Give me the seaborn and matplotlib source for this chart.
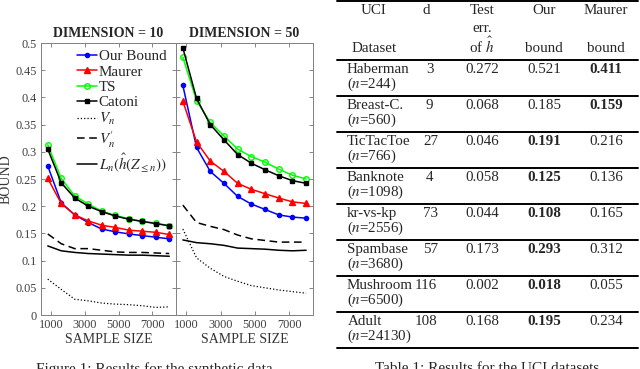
import numpy as np
import pandas as pd
import matplotlib
matplotlib.use('Agg')
import matplotlib.pyplot as plt
import seaborn as sns

sns.set_style('ticks')
plt.rcParams['font.family'] = ['Liberation Serif', 'DejaVu Serif']
plt.rcParams['mathtext.fontset'] = 'stix'

# synthetic data results
sample_sizes = [800, 1600, 2400, 3200, 4000, 4800, 5600, 6400, 7200, 8000]

ours_10 = [0.274, 0.206, 0.184, 0.170, 0.158, 0.153, 0.149, 0.146, 0.143, 0.140]
maurer_10 = [0.251, 0.205, 0.184, 0.173, 0.165, 0.161, 0.156, 0.154, 0.152, 0.148]
ts_10 = [0.313, 0.251, 0.219, 0.204, 0.191, 0.183, 0.177, 0.172, 0.169, 0.164]
catoni_10 = [0.305, 0.243, 0.215, 0.200, 0.190, 0.182, 0.176, 0.172, 0.168, 0.164]
vn_10 = [0.066, 0.047, 0.029, 0.026, 0.022, 0.020, 0.019, 0.017, 0.014, 0.015]
vn_prime_10 = [0.149, 0.131, 0.122, 0.122, 0.119, 0.116, 0.115, 0.115, 0.114, 0.113]
ln_10 = [0.127, 0.118, 0.115, 0.113, 0.112, 0.111, 0.110, 0.110, 0.109, 0.108]

ours_50 = [0.422, 0.308, 0.264, 0.242, 0.218, 0.204, 0.194, 0.184, 0.180, 0.178]
maurer_50 = [0.393, 0.318, 0.283, 0.264, 0.242, 0.231, 0.223, 0.215, 0.208, 0.205]
ts_50 = [0.474, 0.394, 0.354, 0.329, 0.305, 0.291, 0.281, 0.268, 0.257, 0.250]
catoni_50 = [0.491, 0.398, 0.350, 0.322, 0.295, 0.279, 0.267, 0.256, 0.247, 0.242]
vn_50 = [0.158, 0.105, 0.086, 0.071, 0.062, 0.054, 0.050, 0.046, 0.043, 0.040]
vn_prime_50 = [0.202, 0.170, 0.163, 0.157, 0.147, 0.140, 0.137, 0.134, 0.134, 0.134]
ln_50 = [0.138, 0.133, 0.131, 0.128, 0.123, 0.122, 0.121, 0.119, 0.118, 0.119]

y_ticks = [0, 0.05, 0.1, 0.15, 0.2, 0.25, 0.3, 0.35, 0.4, 0.45, 0.5]
y_tick_labels = ['0', '0.05', '0.1', '0.15', '0.2', '0.25', '0.3', '0.35', '0.4', '0.45', '0.5']
x_ticks = [1000, 3000, 5000, 7000]

# UCI table
datasets = ['Haberman', 'Breast-C.', 'TicTacToe', 'Banknote', 'kr-vs-kp', 'Spambase', 'Mushroom', 'Adult']
n_sizes = [244, 560, 766, 1098, 2556, 3680, 6500, 24130]
dims = [3, 9, 27, 4, 73, 57, 116, 108]
test_err = [0.272, 0.068, 0.046, 0.058, 0.044, 0.173, 0.002, 0.168]
our_bound = [0.521, 0.185, 0.191, 0.125, 0.108, 0.293, 0.018, 0.195]
maurer_bound = [0.411, 0.159, 0.216, 0.136, 0.165, 0.312, 0.055, 0.234]

W, H = 640, 369
fig = plt.figure(figsize=(6.4, 3.69), dpi=100)

ax_l = fig.add_axes([41 / W, 1 - 315 / H, 135 / W, 272 / H])
ax_r = fig.add_axes([176 / W, 1 - 315 / H, 137 / W, 272 / H])

series = [
    ('Our Bound', 'blue', '.', '-', 6, 'full'),
    ('Maurer', 'red', '^', '-', 4.5, 'full'),
    ('TS', '#00ff00', 'o', '-', 4, 'none'),
    ('Catoni', 'black', 's', '-', 3, 'full'),
    ('$V_n$', 'black', None, ':', 0, 'full'),
    (r'$V^{\prime}_{n}$', 'black', None, (0, (5, 3)), 0, 'full'),
    (r'$L_n(\hat{h}(Z_{\leq n}))$', 'black', None, '-', 0, 'full'),
]
data_10 = [ours_10, maurer_10, ts_10, catoni_10, vn_10, vn_prime_10, ln_10]
data_50 = [ours_50, maurer_50, ts_50, catoni_50, vn_50, vn_prime_50, ln_50]

for ax, data, title in [(ax_l, data_10, 'DIMENSION = 10'), (ax_r, data_50, 'DIMENSION = 50')]:
    for (label, color, marker, ls, ms, fill), vals in zip(series, data):
        lw = 0.9 if ls == ':' else 1.1
        sns.lineplot(x=sample_sizes, y=vals, ax=ax, color=color, marker=marker, linestyle=ls,
                     markersize=ms, fillstyle=fill, markeredgecolor=color, markeredgewidth=1,
                     linewidth=lw, label=label, legend=False)
    ax.set_xticks(x_ticks)
    ax.set_yticks(y_ticks)
    ax.set_xlim(400, 8400)
    ax.set_ylim(0, 0.5)
    ax.tick_params(direction='in', top=True, right=True, length=3, width=0.6,
                   labelsize=8.8, colors='0.45', labelcolor='0.25', pad=3)
    for sp in ax.spines.values():
        sp.set_color('0.5')
        sp.set_linewidth(0.7)
    ax.set_title(title, fontsize=10, fontweight='bold', pad=4)
    ax.set_xlabel('SAMPLE SIZE', fontsize=10, color='0.2', labelpad=1)

ax_l.set_yticklabels(y_tick_labels)
ax_r.set_yticklabels([])
ax_l.set_ylabel('BOUND', fontsize=10, color='0.2', labelpad=2)

handles, labels = ax_l.get_legend_handles_labels()
ax_l.legend(handles, labels, loc='upper left', bbox_to_anchor=(0.27, 0.975), frameon=False,
            fontsize=10.8, borderpad=0, handlelength=1.3, handletextpad=0.12, labelspacing=0.12,
            borderaxespad=0)

# table drawn in pixel coordinates
tab = fig.add_axes([330 / W, 0, 310 / W, 1])
tab.set_xlim(330, 640)
tab.set_ylim(H, 0)
tab.axis('off')

fs = 10.8
col_x = {'name': 374, 'd': 429, 'err': 482, 'our': 544, 'maurer': 606}
tab.text(col_x['name'], 10, 'UCI', ha='center', va='center', fontsize=fs)
tab.text(col_x['name'], 48, 'Dataset', ha='center', va='center', fontsize=fs)
tab.text(col_x['d'] - 3, 10, 'd', ha='center', va='center', fontsize=fs)
tab.text(col_x['err'], 10, 'Test', ha='center', va='center', fontsize=fs)
tab.text(col_x['err'], 28, 'err.', ha='center', va='center', fontsize=fs)
tab.text(col_x['err'], 46, r'of $\hat{h}$', ha='center', va='center', fontsize=fs)
tab.text(col_x['our'], 10, 'Our', ha='center', va='center', fontsize=fs)
tab.text(col_x['our'], 48, 'bound', ha='center', va='center', fontsize=fs)
tab.text(col_x['maurer'], 10, 'Maurer', ha='center', va='center', fontsize=fs)
tab.text(col_x['maurer'], 48, 'bound', ha='center', va='center', fontsize=fs)

rule_kw = dict(color='black', linewidth=1.4)
tab.plot([337, 638], [1, 1], **rule_kw)
tab.plot([337, 638], [60, 60], **rule_kw)
pitch = 36.0
for i, name in enumerate(datasets):
    top = 60 + i * pitch
    y1, y2 = top + 9.5, top + 24.5
    if name == 'Adult':
        tab.text(365, y1, name, ha='center', va='center', fontsize=fs)
    else:
        tab.text(347, y1, name, ha='left', va='center', fontsize=fs)
    tab.text(347, y2, f'($n$={n_sizes[i]})', ha='left', va='center', fontsize=fs)
    if dims[i] < 10:
        tab.text(426, y1, str(dims[i]), ha='left', va='center', fontsize=fs)
    elif dims[i] < 100:
        tab.text(423, y1, str(dims[i]), ha='left', va='center', fontsize=fs)
    else:
        tab.text(415, y1, str(dims[i]), ha='left', va='center', fontsize=fs)
    tab.text(col_x['err'], y1, f'{test_err[i]:.3f}', ha='center', va='center', fontsize=fs)
    best_ours = our_bound[i] < maurer_bound[i]
    tab.text(col_x['our'], y1, f'{our_bound[i]:.3f}', ha='center', va='center', fontsize=fs,
             fontweight='bold' if best_ours else 'normal')
    tab.text(col_x['maurer'], y1, f'{maurer_bound[i]:.3f}', ha='center', va='center', fontsize=fs,
             fontweight='normal' if best_ours else 'bold')
    tab.plot([337, 638], [top + pitch, top + pitch], **rule_kw)

# captions, cut off at the bottom edge
fig.text(154 / W, 1 - 362 / H, 'Figure 1: Results for the synthetic data', ha='center', va='top', fontsize=11)
fig.text(487 / W, 1 - 362 / H, 'Table 1: Results for the UCI datasets', ha='center', va='top', fontsize=11)

fig.savefig('out.png', dpi=100)
